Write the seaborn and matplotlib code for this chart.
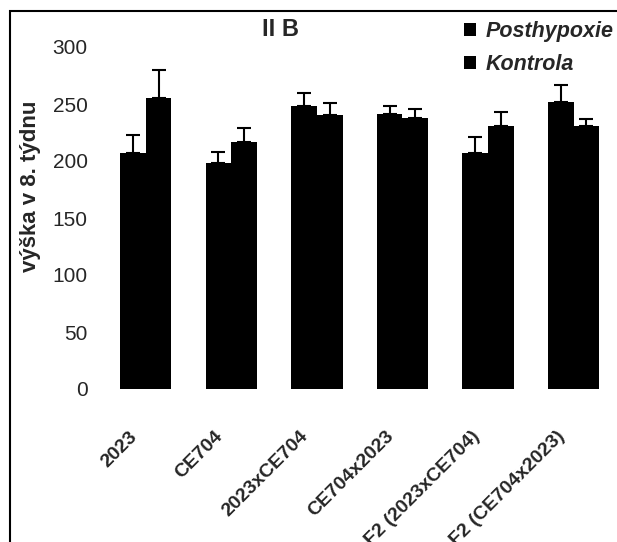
import matplotlib
matplotlib.use("Agg")
import matplotlib.pyplot as plt
from matplotlib.patches import Rectangle
from matplotlib.transforms import offset_copy
import pandas as pd
import seaborn as sns

# Height in week 8, by line/cross, after hypoxia vs control
groups = ["2023", "CE704", "2023xCE704", "CE704x2023", "F2 (2023xCE704)", "F2 (CE704x2023)"]
series = ["Posthypoxie", "Kontrola"]
posthypoxie = [207, 198, 248, 241, 207, 252]
kontrola = [255, 217, 240, 238, 231, 231]
posthypoxie_err = [16, 10, 12, 7, 14, 15]
kontrola_err = [25, 12, 11, 8, 12, 6]
y_ticks = [0, 50, 100, 150, 200, 250, 300]

df = pd.DataFrame({
    "skupina": groups * 2,
    "varianta": [series[0]] * len(groups) + [series[1]] * len(groups),
    "vyska": posthypoxie + kontrola,
})

sns.set_theme(style="white")
plt.rcParams["font.family"] = ["Liberation Sans", "DejaVu Sans"]

W, H = 617, 542
fig = plt.figure(figsize=(W / 100, H / 100), dpi=100)
ax = fig.add_axes([103 / W, 1 - 389 / H, 513.3 / W, 342 / H])

sns.barplot(data=df, x="skupina", y="vyska", hue="varianta", hue_order=series,
            palette=["black", "black"], width=0.6, gap=0, errorbar=None,
            saturation=1, linewidth=0, ax=ax)

# upper-only error bars on top of each bar
for cont, errs in zip(ax.containers, [posthypoxie_err, kontrola_err]):
    xs = [p.get_x() + p.get_width() / 2 for p in cont]
    ys = [p.get_height() for p in cont]
    ax.errorbar(xs, ys, yerr=[[0] * len(errs), errs], fmt="none", ecolor="black",
                elinewidth=1.5, capsize=5, capthick=1.5)

ax.set_ylim(0, 300)
ax.set_xlim(-0.5, len(groups) - 0.5)
ax.set_yticks(y_ticks)
ax.set_yticklabels([str(v) for v in y_ticks])
ax.tick_params(axis="y", length=0, pad=11, labelsize=15)
ax.set_xticks(range(len(groups)))
ax.set_xticklabels([])
ax.tick_params(axis="x", length=0)
ax.set_xlabel("")
ax.set_ylabel("")
sns.despine(ax=ax, left=True, bottom=True)

# slanted category labels, ending just left of each group's centre
lbl_tr = offset_copy(ax.get_xaxis_transform(), fig=fig, x=-11, y=-45, units="dots")
for i, g in enumerate(groups):
    ax.text(i, 0, g, transform=lbl_tr, rotation=45, rotation_mode="anchor",
            ha="right", va="center", fontsize=14, fontweight="bold", clip_on=False)

fig.text(31 / W, 1 - 186 / H, "výška v 8. týdnu", rotation=90, ha="center",
         va="center", fontsize=16, fontweight="bold")
fig.text(280 / W, 1 - 30 / H, "II B", ha="center", va="center",
         fontsize=17, fontweight="bold")

sns.move_legend(ax, "upper left", bbox_to_anchor=(464 / W, 1 - 21 / H),
                bbox_transform=fig.transFigure, frameon=False, title=None,
                prop={"weight": "bold", "style": "italic", "size": 15.5},
                handlelength=0.55, handleheight=0.55, handletextpad=0.45,
                labelspacing=0.55, borderaxespad=0, borderpad=0)

# outer frame, open towards the right and bottom edges
fig.add_artist(Rectangle((10 / W, -0.1), 1.2, 1.1 - 11 / H, transform=fig.transFigure,
                         fill=False, edgecolor="black", linewidth=1.5, clip_on=False))

fig.savefig("out.png", dpi=100)
